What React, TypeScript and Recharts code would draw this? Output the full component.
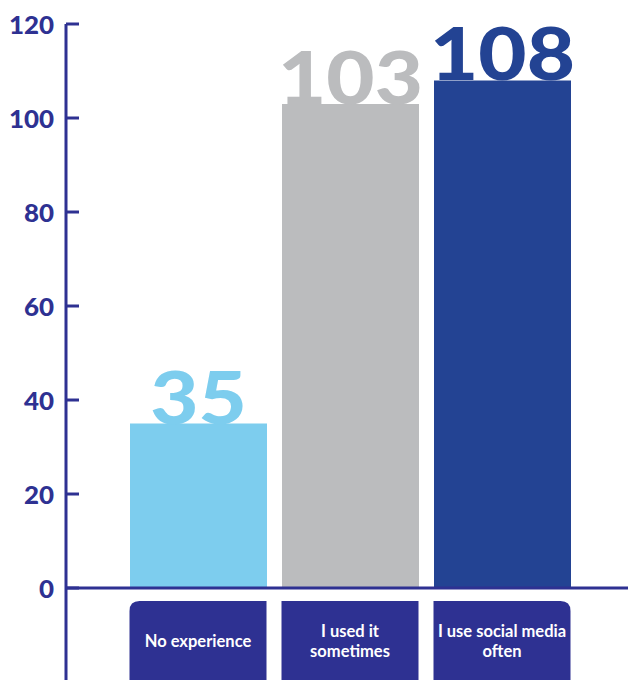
import { BarChart, Bar, XAxis, YAxis, Cell, LabelList, ReferenceLine } from 'recharts';

const categories = ['No experience', 'I used it sometimes', 'I use social media often'];
const categoryLines = [['No experience'], ['I used it', 'sometimes'], ['I use social media', 'often']];
const responses = [35, 103, 108];
const barColors = ['#7dcdee', '#bbbcbe', '#234393'];
const yTicks = [0, 20, 40, 60, 80, 100, 120];

const NAVY = '#2e3192';
const FONT = 'Lato, "Open Sans", sans-serif';

const data = categories.map((name, i) => ({ name, value: responses[i] }));

function YTick(props: any) {
  const { y, payload } = props;
  return (
    <g>
      <line x1={66} x2={79} y1={y} y2={y} stroke={NAVY} strokeWidth={3} />
      <text
        transform={`translate(54, ${y}) scale(1.08, 1)`}
        textAnchor="end"
        dominantBaseline="central"
        fill={NAVY}
        fontFamily={FONT}
        fontWeight={900}
        fontSize={24}
      >
        {payload.value}
      </text>
    </g>
  );
}

function CategoryTick(props: any) {
  const { x, index } = props;
  const w = 137;
  const left = x - w / 2;
  const top = 601;
  const bottom = 700;
  const r = 10;
  let d: string;
  if (index === 0) {
    d = `M${left},${bottom} L${left},${top + r} Q${left},${top} ${left + r},${top} L${left + w},${top} L${left + w},${bottom} Z`;
  } else if (index === categories.length - 1) {
    d = `M${left},${bottom} L${left},${top} L${left + w - r},${top} Q${left + w},${top} ${left + w},${top + r} L${left + w},${bottom} Z`;
  } else {
    d = `M${left},${bottom} L${left},${top} L${left + w},${top} L${left + w},${bottom} Z`;
  }
  const lines = categoryLines[index] || [];
  const lineH = 20;
  const startY = 641 - ((lines.length - 1) * lineH) / 2;
  return (
    <g>
      <path d={d} fill={NAVY} />
      {lines.map((ln, i) => (
        <text
          key={i}
          x={x}
          y={startY + i * lineH}
          textAnchor="middle"
          dominantBaseline="central"
          fill="#ffffff"
          fontFamily={FONT}
          fontWeight={700}
          fontSize={16.5}
        >
          {ln}
        </text>
      ))}
    </g>
  );
}

function ValueLabel(props: any) {
  const { x, y, width, value, index } = props;
  return (
    <text
      transform={`translate(${x + width / 2}, ${y}) scale(1.14, 1)`}
      textAnchor="middle"
      fill={barColors[index]}
      fontFamily={FONT}
      fontWeight={900}
      fontSize={73}
    >
      {value}
    </text>
  );
}

export default function App() {
  return (
    <div style={{ position: 'absolute', left: 0, top: 0, width: 628, height: 680, overflow: 'hidden', background: '#fff' }}>
      <BarChart width={628} height={700} data={data} margin={{ top: 24, right: 0, bottom: 0, left: 0 }}>
        <XAxis
          dataKey="name"
          axisLine={false}
          tickLine={false}
          height={20}
          padding={{ left: 56, right: 50 }}
          interval={0}
          tick={<CategoryTick />}
        />
        <YAxis
          width={66}
          domain={[-19.57, 120]}
          ticks={yTicks}
          allowDataOverflow
          axisLine={{ stroke: NAVY, strokeWidth: 3 }}
          tickLine={false}
          tick={<YTick />}
        />
        <Bar dataKey="value" barSize={137} isAnimationActive={false}>
          {data.map((_, i) => (
            <Cell key={i} fill={barColors[i]} />
          ))}
          <LabelList dataKey="value" content={<ValueLabel />} />
        </Bar>
        <ReferenceLine y={0} stroke={NAVY} strokeWidth={3} />
      </BarChart>
    </div>
  );
}
